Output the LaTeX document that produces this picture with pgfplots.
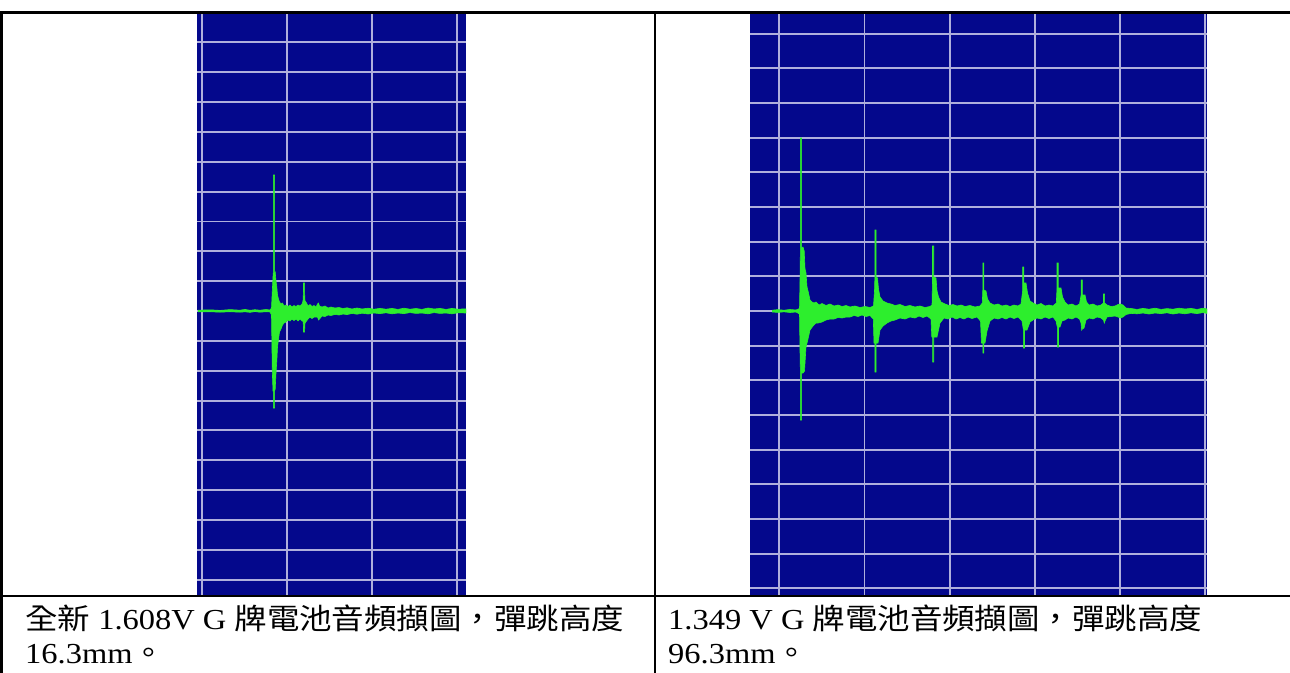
\documentclass[border=0pt]{standalone}
\usepackage{fontspec}
\setmainfont{Liberation Serif}
\newfontfamily\cjk{Noto Sans CJK TC}
\usepackage{pgfplots}
\pgfplotsset{compat=1.18}
\definecolor{bgblue}{RGB}{4,8,140}
\definecolor{gridc}{RGB}{175,175,220}
\definecolor{sig}{RGB}{45,238,45}
\pgfplotsset{osc/.style={scale only axis, anchor=south west, height=582bp,
  axis background/.style={fill=bgblue}, axis line style={draw=none},
  tick style={draw=none}, xticklabel=\empty, yticklabel=\empty,
  grid=major, major grid style={draw=gridc, line width=1.9bp},
  ymin=-284, ymax=298, clip=true}}
\begin{document}
\begin{tikzpicture}
\useasboundingbox (0,0) rectangle (1290bp,-673bp);
% left oscillogram
\begin{axis}[osc, at={(197bp,-595bp)}, width=269bp, xmin=197, xmax=466,
  xtick={201.7,286.9,372.1,457.3},
  ytick={-268.65,-238.8,-208.95,-179.1,-149.25,-119.4,-89.55,-59.7,-29.85,0,29.85,59.7,89.55,119.4,149.25,179.1,208.95,238.8,268.65}]
\addplot[draw=sig, fill=sig, line width=0.6bp] coordinates {
(198,0.8) (210,1.2) (220,0.6) (230,1.4) (240,0.8) (245,1.6) (250,0.7) (255,1.3) (260,0.8) (266,1.5) (270,1.0) (271.5,3) (272.3,20) (273.2,38) (273.4,38) (273.4,136) (274.6,136) (274.6,38) (275.2,39) (276,30) (276.8,24) (277.5,16) (278.5,12) (279.5,9) (281,7) (282.5,8) (284,5) (286,6) (288,4.5) (290,6) (292,4) (294,5.5) (296,4.5) (298,6) (300,5) (302,7) (303,10) (303.5,20) (303.5,28) (304.6,28) (304.6,18) (305,10) (306.5,8) (308,5) (310,6.5) (312,4.5) (314,5.5) (316,4) (317.5,7) (318.5,8) (319.5,5) (322,4) (325,5) (328,3) (331,4) (335,3) (339,3.5) (343,2.5) (347,3.2) (352,2) (357,3) (362,2) (368,2.8) (374,1.8) (380,2.6) (386,1.8) (392,2.6) (398,1.6) (404,2.8) (410,1.8) (416,2.5) (422,1.6) (428,3) (434,2) (440,2.6) (446,1.6) (452,2.6) (458,1.8) (466,2.2)
(466,-2.0) (458,-1.8) (452,-2.8) (446,-2.0) (440,-2.4) (434,-1.6) (428,-2.8) (422,-2.0) (416,-2.4) (410,-1.6) (404,-2.6) (398,-2.0) (392,-2.8) (386,-1.8) (380,-2.6) (374,-2.0) (368,-3.0) (362,-2.2) (357,-3.2) (352,-2.4) (347,-3.6) (343,-3) (339,-4) (335,-3.4) (331,-4.5) (328,-4) (325,-5.5) (322,-5) (319.5,-8) (318.5,-9) (317.5,-6) (314,-6) (312,-7.5) (310,-6) (308,-8) (306.5,-10) (305,-12) (304.6,-20) (304.6,-21) (303.5,-21) (303.5,-16) (303,-10) (302,-10) (300,-8) (298,-10) (296,-8) (294,-9.5) (292,-8) (290,-10) (288,-9) (286,-11) (284,-12) (282.5,-14) (281,-18) (279.5,-21) (278.5,-28) (277.5,-36) (276.8,-50) (276,-62) (275.2,-78) (274.6,-80) (274.6,-97) (273.4,-97) (273.4,-80) (273.0,-80) (272.3,-60) (271.5,-4) (270,-1.0) (266,-0.7) (260,-1.2) (255,-0.6) (250,-1.3) (245,-0.8) (240,-1.2) (230,-0.7) (220,-1.2) (210,-0.7) (198,-0.9)
};
\end{axis}
% right oscillogram
\begin{axis}[osc, at={(750bp,-595bp)}, width=457bp, xmin=750, xmax=1207,
  xtick={779.3,864.5,949.7,1034.9,1120.1,1205.3},
  ytick={-277.2,-242.55,-207.9,-173.25,-138.6,-103.95,-69.3,-34.65,0,34.65,69.3,103.95,138.6,173.25,207.9,242.55,277.2}]
\addplot[draw=sig, fill=sig, line width=0.6bp] coordinates {
(772,0.8) (778,1.4) (784,0.8) (790,1.5) (796,1.0) (799.5,2.5) (800.0,30) (800.4,63) (800.4,173) (801.6,173) (801.6,63) (803,64) (804.2,60) (805,42) (806,38) (807,24) (808.5,18) (810,11) (812,9) (814,8) (816,9) (819,6) (822,7.5) (826,5.5) (830,7) (834,5) (838,6) (842,4.5) (846,5.5) (850,4) (855,5) (860,3.5) (865,4.5) (870,3.5) (873.5,5) (874.5,20) (874.9,34) (874.9,81) (876.1,81) (876.1,34) (877.5,33) (878.5,22) (880,14) (883,10) (887,8) (891,7) (895,5.5) (900,6.5) (905,4.5) (910,5.5) (915,4) (920,5) (925,3.5) (930,4.5) (932,6) (932.5,30) (932.5,65) (933.7,65) (933.7,34) (936,33) (937,20) (938.5,14) (941,9) (945,7) (949,5.5) (953,6.5) (957,5) (961,6) (965,4.5) (970,5.5) (975,4) (980,5) (982.3,8) (982.8,21) (982.8,48) (983.9,48) (983.9,21) (986,20) (987.5,12) (990,8) (994,6) (998,7) (1002,5) (1006,6) (1010,4.5) (1014,6) (1018,5) (1021,7) (1022.6,20) (1022.6,44) (1023.8,44) (1023.8,28) (1026,28) (1027.5,18) (1030,10) (1033,8) (1037,6) (1041,7.5) (1045,5) (1049,6) (1053,5) (1056.3,8) (1057.0,23) (1057.0,48) (1058.2,48) (1058.2,23) (1061,23) (1062.5,14) (1065,9) (1068,6) (1072,7) (1076,5) (1079.5,7) (1081.1,16) (1081.1,31) (1082.3,31) (1082.3,16) (1085,16) (1086.5,9) (1089,6) (1093,7) (1097,5) (1101,6) (1103.5,8) (1103.5,17) (1104.6,17) (1104.6,8) (1107,6) (1111,4.5) (1115,5) (1118,6.5) (1120.5,7) (1123,6) (1126,3) (1131,2.5) (1137,1.6) (1143,2.6) (1149,1.8) (1155,2.8) (1161,1.6) (1167,2.4) (1173,1.8) (1179,2.8) (1185,2.0) (1191,2.6) (1197,1.6) (1203,2.8) (1207,2.0)
(1207,-2.4) (1203,-1.6) (1197,-2.6) (1191,-1.8) (1185,-2.8) (1179,-2.0) (1173,-3.0) (1167,-1.8) (1161,-2.6) (1155,-2.0) (1149,-3.0) (1143,-2.0) (1137,-2.8) (1131,-2.4) (1126,-3.5) (1123,-6) (1120.5,-7) (1118,-6) (1115,-5) (1111,-5.5) (1107,-6) (1105,-10) (1104.3,-12) (1103.5,-9) (1101,-7) (1097,-6) (1093,-8) (1089,-7) (1086,-9) (1084,-17) (1082.3,-18) (1081.7,-19) (1081,-12) (1079.5,-8) (1076,-6) (1072,-8) (1068,-7) (1065,-9) (1062,-10) (1060,-16) (1058.5,-16) (1058.5,-36) (1057.3,-36) (1057.3,-16) (1056,-10) (1053,-6) (1049,-7.5) (1045,-6) (1041,-8) (1037,-7) (1033,-9) (1030,-11) (1027,-19) (1024.5,-19) (1024.5,-37) (1023.4,-37) (1023.4,-19) (1022,-10) (1018,-6) (1014,-7.5) (1010,-6) (1006,-8) (1002,-6.5) (998,-8) (994,-7) (990,-10) (987,-20) (985,-32) (983.9,-32) (983.9,-42) (982.8,-42) (982.8,-32) (981.5,-32) (980.5,-10) (977,-6) (972,-7.5) (968,-6) (964,-8) (960,-6.5) (956,-8) (952,-6) (948,-8) (944,-7) (940,-12) (937,-26) (935,-26) (933.7,-26) (933.7,-51) (932.6,-51) (932.6,-26) (931.8,-26) (931,-8) (927,-5) (923,-6.5) (919,-5) (915,-7) (910,-6) (905,-8) (900,-7) (895,-9) (891,-10) (887,-12) (883,-15) (880,-19) (878,-32) (876.1,-32) (876.1,-61) (874.9,-61) (874.9,-32) (874.0,-32) (873.3,-8) (870,-4.5) (866,-5.5) (862,-4) (858,-5.5) (854,-4.5) (850,-6) (846,-6) (842,-7) (838,-6.5) (834,-8) (830,-8) (826,-9) (822,-11) (818,-12) (816,-12) (813,-15) (810,-19) (808,-28) (806,-36) (804.5,-60) (803,-62) (801.6,-62) (801.6,-109) (800.4,-109) (800.4,-62) (800.0,-40) (799.5,-3) (796,-1.0) (790,-1.5) (784,-0.8) (778,-1.4) (772,-1.0)
};
\end{axis}
% table rules
\draw[line width=2.2bp] (0bp,-12.5bp) -- (1290bp,-12.5bp);
\draw[line width=2.2bp] (0bp,-596bp) -- (1290bp,-596bp);
\draw[line width=2.2bp] (1.5bp,-12.5bp) -- (1.5bp,-673bp);
\draw[line width=2.2bp] (655bp,-12.5bp) -- (655bp,-673bp);
% captions
\begin{scope}[every node/.style={anchor=base west, inner sep=0pt, xscale=1.12, font=\fontsize{29bp}{34bp}\selectfont}]
\node at (25bp,-629bp) {{\cjk 全新} 1.608V G {\cjk 牌電池音頻擷圖，彈跳高度}};
\node at (25bp,-663bp) {16.3mm{\cjk 。}};
\node at (668bp,-629bp) {1.349 V G {\cjk 牌電池音頻擷圖，彈跳高度}};
\node at (668bp,-663bp) {96.3mm{\cjk 。}};
\end{scope}
\end{tikzpicture}
\end{document}
